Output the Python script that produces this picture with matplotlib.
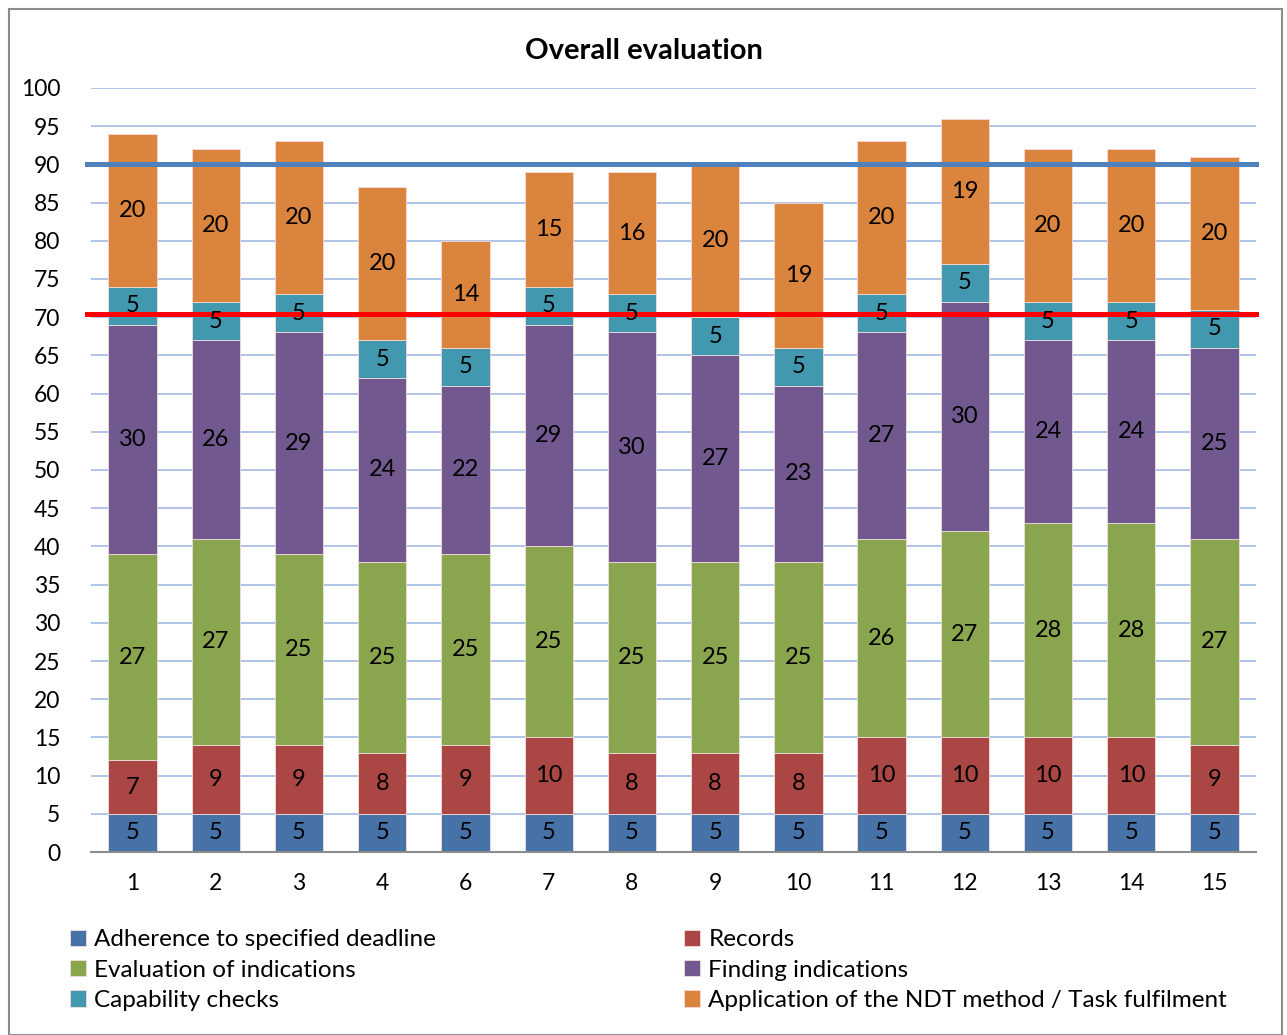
import numpy as np
import matplotlib.pyplot as plt
from matplotlib.patches import Rectangle

plt.rcParams['font.family'] = ['Lato', 'DejaVu Sans']

# categories (trainee numbers, no 5)
cats = ['1', '2', '3', '4', '6', '7', '8', '9', '10', '11', '12', '13', '14', '15']

deadline = [5, 5, 5, 5, 5, 5, 5, 5, 5, 5, 5, 5, 5, 5]
records = [7, 9, 9, 8, 9, 10, 8, 8, 8, 10, 10, 10, 10, 9]
evaluation = [27, 27, 25, 25, 25, 25, 25, 25, 25, 26, 27, 28, 28, 27]
finding = [30, 26, 29, 24, 22, 29, 30, 27, 23, 27, 30, 24, 24, 25]
capability = [5, 5, 5, 5, 5, 5, 5, 5, 5, 5, 5, 5, 5, 5]
application = [20, 20, 20, 20, 14, 15, 16, 20, 19, 20, 19, 20, 20, 20]

series_names = ['Adherence to specified deadline', 'Records',
                'Evaluation of indications', 'Finding indications',
                'Capability checks', 'Application of the NDT method / Task fulfilment']
series = [deadline, records, evaluation, finding, capability, application]
colors = ['#4672A8', '#AA4643', '#89A54E', '#71588F', '#4198AF', '#DB843D']

upper_limit = 90
lower_limit = 70.4

fig = plt.figure(figsize=(12.87, 10.35), dpi=100)
ax = fig.add_axes([0.0707, 0.1768, 0.9053, 0.7382])

x = np.arange(len(cats))
bottom = np.zeros(len(cats))
handles = []
for name, vals, col in zip(series_names, series, colors):
    vals = np.array(vals, dtype=float)
    b = ax.bar(x, vals, 0.58, bottom=bottom, color=col, edgecolor='#F2DCDB',
               linewidth=0.6, label=name, zorder=3)
    handles.append(b)
    for xi, v, bt in zip(x, vals, bottom):
        ax.text(xi, bt + v / 2, '%d' % v, ha='center', va='center',
                fontsize=17, color='black', zorder=5)
    bottom += vals

ax.axhline(upper_limit, xmin=-0.003, xmax=1, color='#4F81BD', lw=3.6, zorder=4, clip_on=False)
ax.axhline(lower_limit, xmin=-0.003, xmax=1, color='#FF0000', lw=3.6, zorder=4, clip_on=False)

ax.set_xlim(-0.5, len(cats) - 0.5)
ax.set_ylim(0, 100)
ax.set_yticks(np.arange(0, 101, 5))
ax.set_xticks(x)
ax.set_xticklabels(cats)
ax.tick_params(axis='both', labelsize=16.5, length=0)
ax.tick_params(axis='x', pad=15)
ax.tick_params(axis='y', pad=22)
ax.grid(axis='y', color='#A9BFE8', lw=1.3, zorder=0)
for s in ['left', 'right', 'top']:
    ax.spines[s].set_visible(False)
ax.spines['bottom'].set_color('#8C8C8C')
ax.spines['bottom'].set_linewidth(1.5)
ax.spines['bottom'].set_zorder(6)

fig.text(0.5, 0.951, 'Overall evaluation', ha='center', va='center',
         fontsize=21, fontweight='bold')

order = [0, 2, 4, 1, 3, 5]
leg = fig.legend([handles[i] for i in order], [series_names[i] for i in order],
                 ncol=2, loc='upper left', bbox_to_anchor=(0.045, 0.114),
                 frameon=False, fontsize=17.5, handlelength=0.65, handleheight=0.65,
                 handletextpad=0.35, columnspacing=10.2, labelspacing=0.39,
                 borderpad=0)

fig.patches.append(Rectangle((0.007, 0.0), 0.989, 0.991, transform=fig.transFigure,
                             fill=False, edgecolor='#8C8C8C', lw=1.5))

fig.savefig('out.png', dpi=100)
